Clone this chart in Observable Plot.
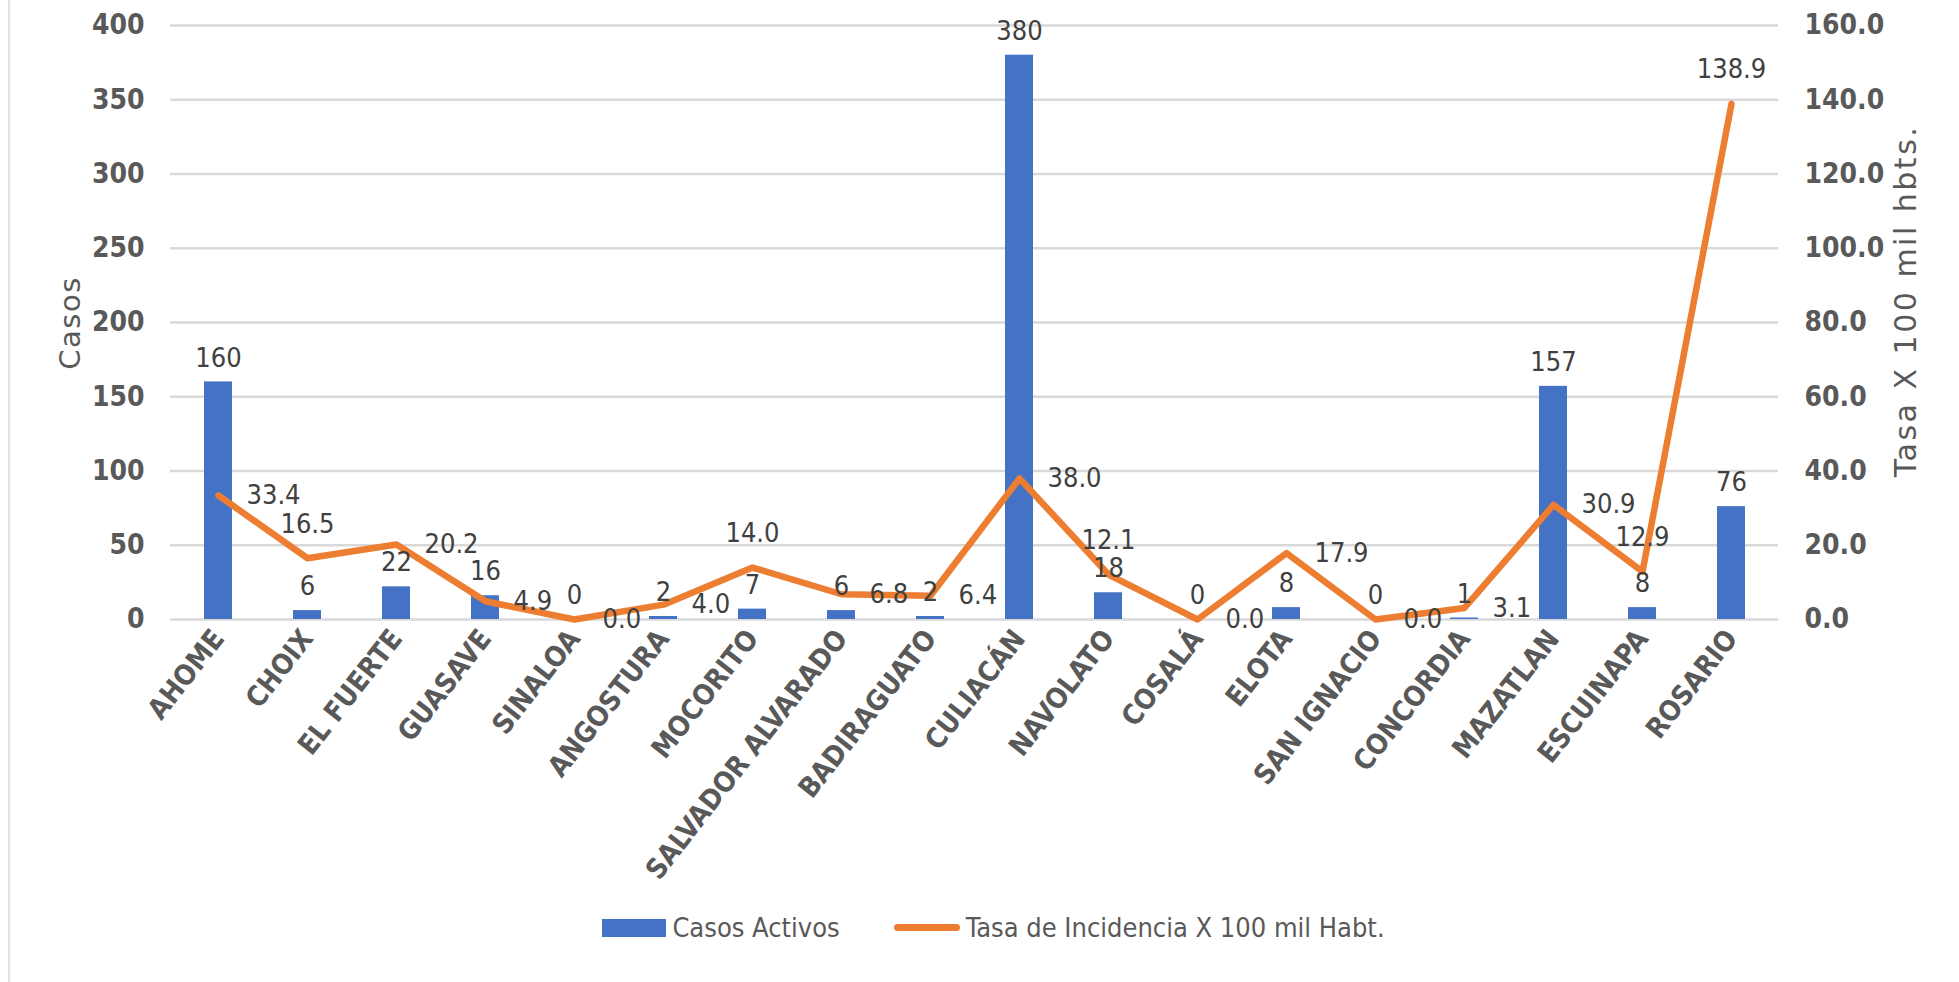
<!DOCTYPE html>
<html>
<head>
<meta charset="utf-8">
<script src="https://cdn.jsdelivr.net/npm/d3@7"></script>
<script src="https://cdn.jsdelivr.net/npm/@observablehq/plot@0.6"></script>
<style>
  html, body { margin: 0; padding: 0; background: #fff; }
  #wrap { position: relative; width: 1959px; height: 982px; overflow: hidden; }
  #border { position: absolute; left: 8px; top: 0; width: 2px; height: 982px; background: #e3e3e3; }
  #chart { position: absolute; left: 0; top: 0; }
  #legend { position: absolute; left: 14px; top: 912px; width: 1959px; display: flex; justify-content: center; align-items: center;
            font-family: "Liberation Sans Narrow", "DejaVu Sans Condensed", "Roboto Condensed", sans-serif; font-size: 27px; color: #595959; }
  .sw-bar { width: 64px; height: 18px; background: #4472C4; margin-right: 6px; }
  .sw-line { width: 66px; height: 7px; border-radius: 4px; background: #ED7D31; margin-left: 54px; margin-right: 6px; }
</style>
</head>
<body>
<div id="wrap">
  <div id="border"></div>
  <div id="chart"></div>
  <div id="legend">
    <div class="sw-bar"></div><span id="lg1"></span>
    <div class="sw-line"></div><span id="lg2"></span>
  </div>
</div>
<script>
const municipios = ["AHOME","CHOIX","EL FUERTE","GUASAVE","SINALOA","ANGOSTURA","MOCORITO","SALVADOR ALVARADO","BADIRAGUATO","CULIACÁN","NAVOLATO","COSALÁ","ELOTA","SAN IGNACIO","CONCORDIA","MAZATLAN","ESCUINAPA","ROSARIO"];
const casosActivos = [160, 6, 22, 16, 0, 2, 7, 6, 2, 380, 18, 0, 8, 0, 1, 157, 8, 76];
const tasaIncidencia = [33.4, 16.5, 20.2, 4.9, 0.0, 4.0, 14.0, 6.8, 6.4, 38.0, 12.1, 0.0, 17.9, 0.0, 3.1, 30.9, 12.9, 138.9];
const casosTicks = [0, 50, 100, 150, 200, 250, 300, 350, 400];
const tasaTicks = [0, 20, 40, 60, 80, 100, 120, 140, 160];
const seriesNames = ["Casos Activos", "Tasa de Incidencia X 100 mil Habt."];
const axisTitles = ["Casos", "Tasa X 100 mil hbts."];

const casosMax = 400, tasaMax = 160;
const k = casosMax / tasaMax;

const data = municipios.map((m, i) => ({m, casos: casosActivos[i], tasa: tasaIncidencia[i], tasaScaled: tasaIncidencia[i] * k, label: tasaIncidencia[i].toFixed(1)}));

const NARROW = '"Liberation Sans Narrow", "DejaVu Sans Condensed", "Roboto Condensed", sans-serif';
const LABEL_SIZE = 27;
const BAR_DY = -24;
const SIDE_DX = 28;
const VERT_DY = 34;

const baseOpts = {
  width: 1959,
  height: 890,
  marginLeft: 170,
  marginRight: 181,
  marginTop: 25,
  marginBottom: 271,
  style: {fontFamily: NARROW, background: "transparent"},
  x: {domain: municipios, paddingInner: 0.69, paddingOuter: 0.345},
  y: {domain: [0, casosMax]}
};

function baseMarks() {
  return [
    Plot.gridY(casosTicks, {stroke: "#D9D9D9", strokeWidth: 2.5, strokeOpacity: 1}),
    Plot.barY(data, {x: "m", y: "casos", fill: "#4472C4"}),
    Plot.line(data, {x: "m", y: "tasaScaled", stroke: "#ED7D31", strokeWidth: 6.5, strokeLinejoin: "round", strokeLinecap: "round"}),
    Plot.text(data, {x: "m", y: "casos", text: d => String(d.casos), dy: BAR_DY, fontSize: LABEL_SIZE, fill: "#404040"}),
    Plot.axisY(casosTicks, {anchor: "left", tickSize: 0, tickPadding: 26, fontSize: 28, fontWeight: "bold", fill: "#595959", label: null}),
    Plot.axisY(tasaTicks.map(v => v * k), {anchor: "right", tickSize: 0, tickPadding: 26, fontSize: 28, fontWeight: "bold", fill: "#595959", textAnchor: "start", tickFormat: d => (d / k).toFixed(1), label: null}),
    Plot.axisX({tickSize: 0, tickPadding: 14, tickRotate: -52, fontSize: 28, fontWeight: "bold", fill: "#595959", label: null})
  ];
}

// First pass: get the scales to place the line labels without collisions
const probe = Plot.plot({...baseOpts, marks: baseMarks()});
const sx = probe.scale("x"), sy = probe.scale("y");
const bw = sx.bandwidth;
const px = m => sx.apply(m) + bw / 2;
const py = v => sy.apply(v);

// measure label widths with the real font
const meas = d3.select("body").append("svg").attr("width", 10).attr("height", 10)
  .style("position", "absolute").style("left", "-9999px");
const measText = meas.append("text").attr("font-family", NARROW).attr("font-size", LABEL_SIZE);
const tw = s => { measText.text(s); return measText.node().getComputedTextLength() + 4; };
const H = LABEL_SIZE * 0.85;

function overlap(a, b) { return a.x0 < b.x1 && a.x1 > b.x0 && a.y0 < b.y1 && a.y1 > b.y0; }

const labelBoxes = [], barBoxes = [], lineBoxes = [];
data.forEach(d => {
  const cx = px(d.m), top = py(d.casos);
  const w = tw(String(d.casos));
  labelBoxes.push({x0: cx - w / 2, x1: cx + w / 2, y0: top + BAR_DY - H / 2, y1: top + BAR_DY + H / 2});
  if (d.casos > 0) barBoxes.push({x0: sx.apply(d.m), x1: sx.apply(d.m) + bw, y0: top, y1: py(0)});
});
for (let i = 0; i < data.length - 1; i++) {
  const x0 = px(data[i].m), y0 = py(data[i].tasaScaled), x1 = px(data[i + 1].m), y1 = py(data[i + 1].tasaScaled);
  for (let t = 0.1; t <= 0.9; t += 0.04) {
    const x = x0 + (x1 - x0) * t, y = y0 + (y1 - y0) * t;
    lineBoxes.push({x0: x - 3, x1: x + 3, y0: y - 3, y1: y + 3});
  }
}
const plotRight = baseOpts.width - baseOpts.marginRight;
const baseline = py(0);

const candidates = {
  right: (x, y, w) => ({x0: x + SIDE_DX, x1: x + SIDE_DX + w, y0: y - H / 2, y1: y + H / 2}),
  above: (x, y, w) => ({x0: x - w / 2, x1: x + w / 2, y0: y - VERT_DY - H / 2, y1: y - VERT_DY + H / 2}),
  below: (x, y, w) => ({x0: x - w / 2, x1: x + w / 2, y0: y + VERT_DY - H / 2, y1: y + VERT_DY + H / 2}),
  left: (x, y, w) => ({x0: x - SIDE_DX - w, x1: x - SIDE_DX, y0: y - H / 2, y1: y + H / 2})
};
const sidePenalty = {right: 0, above: 0.5, below: 1, left: 1.5};
const placed = [];
data.forEach(d => {
  const x = px(d.m), y = py(d.tasaScaled), w = tw(d.label);
  let best = null, bestScore = Infinity;
  for (const side of ["right", "above", "below", "left"]) {
    const box = candidates[side](x, y, w);
    let s = sidePenalty[side];
    if (box.x1 > plotRight + 2) s += 100;
    if (box.y1 > baseline + 18) s += 8;
    s += 10 * labelBoxes.filter(o => overlap(o, box)).length;
    s += 10 * placed.filter(o => overlap(o, box)).length;
    s += 1 * barBoxes.filter(o => overlap(o, box)).length;
    s += 0.01 * lineBoxes.filter(o => overlap(o, box)).length;
    if (s < bestScore) { bestScore = s; best = {side, box}; }
  }
  d.side = best.side;
  placed.push(best.box);
});
meas.remove();

const sideStyle = {
  right: {dx: SIDE_DX, dy: 0, textAnchor: "start"},
  below: {dx: 0, dy: VERT_DY, textAnchor: "middle"},
  above: {dx: 0, dy: -VERT_DY, textAnchor: "middle"},
  left: {dx: -SIDE_DX, dy: 0, textAnchor: "end"}
};
const lineLabels = Object.keys(sideStyle).map(side =>
  Plot.text(data.filter(d => d.side === side), {x: "m", y: "tasaScaled", text: "label", ...sideStyle[side], fontSize: LABEL_SIZE, fill: "#404040"})
);

const chart = Plot.plot({...baseOpts, marks: [...baseMarks(), ...lineLabels]});
document.getElementById("chart").appendChild(chart);

// axis titles
const svg = d3.select(chart);
svg.append("text")
  .attr("transform", "translate(80,323) rotate(-90)")
  .attr("text-anchor", "middle")
  .attr("font-family", "DejaVu Sans, sans-serif")
  .attr("font-size", 29)
  .attr("letter-spacing", 1.5)
  .attr("fill", "#595959")
  .text(axisTitles[0]);
svg.append("text")
  .attr("transform", "translate(1916,301) rotate(-90)")
  .attr("text-anchor", "middle")
  .attr("font-family", "DejaVu Sans, sans-serif")
  .attr("font-size", 30)
  .attr("letter-spacing", 2.5)
  .attr("fill", "#595959")
  .text(axisTitles[1]);

document.getElementById("lg1").textContent = seriesNames[0];
document.getElementById("lg2").textContent = seriesNames[1];
</script>
</body>
</html>
